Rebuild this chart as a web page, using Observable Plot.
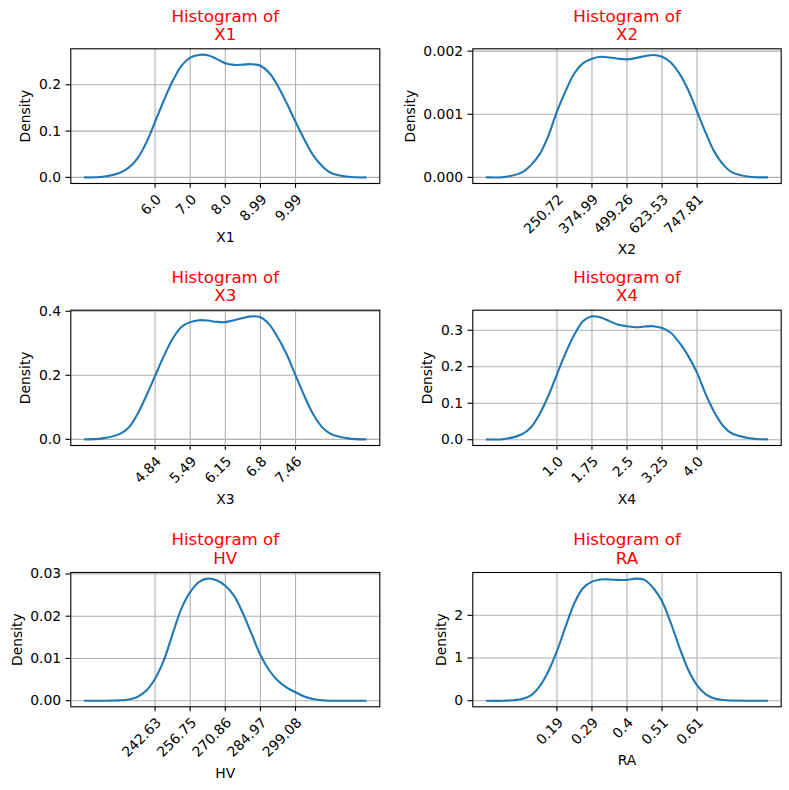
<!DOCTYPE html>
<html>
<head>
<meta charset="utf-8">
<script src="https://cdn.jsdelivr.net/npm/d3@7"></script>
<script src="https://cdn.jsdelivr.net/npm/@observablehq/plot@0.6"></script>
<style>
  html, body { margin: 0; padding: 0; background: #fff; }
  #chart { position: relative; width: 789px; height: 790px; background: #fff; overflow: hidden; }
  #chart > div { position: absolute; }
  #chart svg { display: block; max-width: none; }
</style>
</head>
<body>
<div id="chart"></div>
<script>
// Kernel density curves of six variables, one panel each (row by row).
const variables = ["X1", "X2", "X3", "X4", "HV", "RA"];

// ---- X1 ----
const x1TickValues = [6.0, 6.9975, 7.995, 8.9925, 9.99];
const x1TickLabels = ["6.0", "7.0", "8.0", "8.99", "9.99"];
const x1YTicks = [0, 0.1, 0.2];
const x1YLabels = ["0.0", "0.1", "0.2"];
const x1KdeX = [4.005, 4.504, 5.0025, 5.2519, 5.5013, 5.7506, 6.0, 6.2494, 6.4988, 6.7481, 6.9975, 7.2469, 7.4963, 7.7456, 7.995, 8.2444, 8.4938, 8.7431, 8.9925, 9.2419, 9.4913, 9.7406, 9.99, 10.2394, 10.4888, 10.7381, 10.9875, 11.4863, 11.985];
const x1KdeY = [0, 0.0012, 0.01, 0.021, 0.041, 0.075, 0.12, 0.166, 0.208, 0.241, 0.2587, 0.2645, 0.264, 0.256, 0.2465, 0.243, 0.2435, 0.2445, 0.241, 0.226, 0.197, 0.16, 0.12, 0.082, 0.048, 0.025, 0.01, 0.0012, 0];

// ---- X2 ----
const x2TickValues = [250.72, 374.9925, 499.265, 623.5375, 747.81];
const x2TickLabels = ["250.72", "374.99", "499.26", "623.53", "747.81"];
const x2YTicks = [0, 0.001, 0.002];
const x2YLabels = ["0.000", "0.001", "0.002"];
const x2KdeX = [2.175, 64.311, 126.448, 157.516, 188.584, 219.652, 250.72, 281.788, 312.856, 343.924, 374.993, 406.061, 437.129, 468.197, 499.265, 530.333, 561.401, 592.469, 623.538, 654.606, 685.674, 716.742, 747.81, 778.878, 809.946, 841.014, 872.083, 934.219, 996.355];
const x2KdeY = [0, 0.000006, 0.00008, 0.00019, 0.00036, 0.00065, 0.00104, 0.00137, 0.00165, 0.00181, 0.00188, 0.00191, 0.0019, 0.00188, 0.00187, 0.00189, 0.00192, 0.00194, 0.00191, 0.00182, 0.00164, 0.00138, 0.00104, 0.0007, 0.0004, 0.0002, 0.00008, 0.00001, 0];

// ---- X3 ----
const x3TickValues = [4.84, 5.495, 6.15, 6.805, 7.46];
const x3TickLabels = ["4.84", "5.49", "6.15", "6.8", "7.46"];
const x3YTicks = [0, 0.2, 0.4];
const x3YLabels = ["0.0", "0.2", "0.4"];
const x3KdeX = [3.53, 3.8575, 4.185, 4.34875, 4.5125, 4.67625, 4.84, 5.00375, 5.1675, 5.33125, 5.495, 5.65875, 5.8225, 5.98625, 6.15, 6.31375, 6.4775, 6.64125, 6.805, 6.96875, 7.1325, 7.29625, 7.46, 7.62375, 7.7875, 7.95125, 8.115, 8.4425, 8.77];
const x3KdeY = [0, 0.003, 0.017, 0.037, 0.079, 0.136, 0.198, 0.26, 0.314, 0.351, 0.366, 0.372, 0.371, 0.367, 0.366, 0.372, 0.379, 0.384, 0.381, 0.359, 0.317, 0.265, 0.2, 0.136, 0.079, 0.039, 0.017, 0.003, 0];

// ---- X4 ----
const x4TickValues = [1.0, 1.75, 2.5, 3.25, 4.0];
const x4TickLabels = ["1.0", "1.75", "2.5", "3.25", "4.0"];
const x4YTicks = [0, 0.1, 0.2, 0.3];
const x4YLabels = ["0.0", "0.1", "0.2", "0.3"];
const x4KdeX = [-0.5, -0.125, 0.25, 0.4375, 0.625, 0.8125, 1.0, 1.1875, 1.375, 1.5625, 1.75, 1.9375, 2.125, 2.3125, 2.5, 2.6875, 2.875, 3.0625, 3.25, 3.4375, 3.625, 3.8125, 4.0, 4.1875, 4.375, 4.5625, 4.75, 5.125, 5.5];
const x4KdeY = [0.001, 0.002, 0.015, 0.033, 0.069, 0.119, 0.179, 0.238, 0.288, 0.325, 0.338, 0.335, 0.325, 0.315, 0.311, 0.308, 0.31, 0.311, 0.306, 0.293, 0.265, 0.229, 0.183, 0.124, 0.074, 0.037, 0.017, 0.004, 0.001];

// ---- HV ----
const hvTickValues = [242.63, 256.7425, 270.855, 284.9675, 299.08];
const hvTickLabels = ["242.63", "256.75", "270.86", "284.97", "299.08"];
const hvYTicks = [0, 0.01, 0.02, 0.03];
const hvYLabels = ["0.00", "0.01", "0.02", "0.03"];
const hvKdeX = [214.405, 221.461, 228.518, 232.046, 235.574, 239.102, 242.63, 246.158, 249.686, 253.214, 256.743, 260.271, 263.799, 267.327, 270.855, 274.383, 277.911, 281.439, 284.968, 288.496, 292.024, 295.552, 299.08, 302.608, 306.136, 309.664, 313.193, 320.249, 327.305];
const hvKdeY = [0, 0, 0.0001, 0.0003, 0.0009, 0.0024, 0.0052, 0.0096, 0.0158, 0.0218, 0.0257, 0.0281, 0.0289, 0.0285, 0.0272, 0.0248, 0.0207, 0.0158, 0.0108, 0.0072, 0.0047, 0.0031, 0.002, 0.001, 0.0004, 0.0001, 0, 0, 0];

// ---- RA ----
const raTickValues = [0.19, 0.295, 0.4, 0.505, 0.61];
const raTickLabels = ["0.19", "0.29", "0.4", "0.51", "0.61"];
const raYTicks = [0, 1, 2];
const raYLabels = ["0", "1", "2"];
const raKdeX = [-0.02, 0.0325, 0.085, 0.11125, 0.1375, 0.16375, 0.19, 0.21625, 0.2425, 0.26875, 0.295, 0.32125, 0.3475, 0.37375, 0.4, 0.42625, 0.4525, 0.47875, 0.505, 0.53125, 0.5575, 0.58375, 0.61, 0.63625, 0.6625, 0.68875, 0.715, 0.7675, 0.82];
const raKdeY = [0, 0, 0.04, 0.12, 0.33, 0.68, 1.16, 1.74, 2.29, 2.64, 2.79, 2.84, 2.84, 2.83, 2.83, 2.86, 2.83, 2.64, 2.33, 1.82, 1.24, 0.72, 0.36, 0.15, 0.054, 0.015, 0.003, 0, 0];

const panels = [
  {tickValues: x1TickValues, tickLabels: x1TickLabels, yTicks: x1YTicks, yLabels: x1YLabels, kdeX: x1KdeX, kdeY: x1KdeY},
  {tickValues: x2TickValues, tickLabels: x2TickLabels, yTicks: x2YTicks, yLabels: x2YLabels, kdeX: x2KdeX, kdeY: x2KdeY},
  {tickValues: x3TickValues, tickLabels: x3TickLabels, yTicks: x3YTicks, yLabels: x3YLabels, kdeX: x3KdeX, kdeY: x3KdeY},
  {tickValues: x4TickValues, tickLabels: x4TickLabels, yTicks: x4YTicks, yLabels: x4YLabels, kdeX: x4KdeX, kdeY: x4KdeY},
  {tickValues: hvTickValues, tickLabels: hvTickLabels, yTicks: hvYTicks, yLabels: hvYLabels, kdeX: hvKdeX, kdeY: hvKdeY},
  {tickValues: raTickValues, tickLabels: raTickLabels, yTicks: raYTicks, yLabels: raYLabels, kdeX: raKdeX, kdeY: raKdeY}
].map((p, i) => ({name: variables[i], ...p}));

// Grid layout: cell extents and plotting-frame extents in page pixels.
const colCells = [[0, 394], [394, 789]];
const colFrames = [[70.3, 379.3], [472.3, 780.7]];
const rowCells = [[0, 262], [262, 522], [522, 790]];
const rowFrames = [[48.3, 183], [309.7, 445], [572, 706.3]];

const FONT = '"DejaVu Sans", sans-serif';
const TICK_FONT = 13.9;
const TITLE_FONT = 16.67;
const BLUE = "#1f77b4";
const GRID = "#b0b0b0";
const LINE_W = 1.11;
const TICK_LEN = 4.86, TICK_PAD = 4.86, LABEL_PAD = 5.56;

const measureCtx = document.createElement("canvas").getContext("2d");
measureCtx.font = `${TICK_FONT}px ${FONT}`;
const textWidth = (s) => measureCtx.measureText(s).width;

const root = document.getElementById("chart");

panels.forEach((p, i) => {
  const col = i % 2, row = Math.floor(i / 2);
  const [cx0, cx1] = colCells[col], [fx0, fx1] = colFrames[col];
  const [cy0, cy1] = rowCells[row], [fy0, fy1] = rowFrames[row];
  const width = cx1 - cx0, height = cy1 - cy0;

  // 5% margins around the curve, as in the usual density plot
  const [xLo, xHi] = d3.extent(p.kdeX);
  const [yLo, yHi] = d3.extent(p.kdeY);
  const xPad = 0.05 * (xHi - xLo), yPad = 0.05 * (yHi - yLo);

  const curve = p.kdeX.map((x, j) => ({x, y: p.kdeY[j]}));
  const yLabelW = d3.max(p.yLabels, textWidth);
  const xLabelW = d3.max(p.tickLabels, textWidth);
  const xLabelDy = TICK_LEN + TICK_PAD + (xLabelW + 16) * Math.SQRT1_2 + LABEL_PAD;
  const yLabelDx = TICK_LEN + TICK_PAD + yLabelW + LABEL_PAD + 7.5;

  const chart = Plot.plot({
    width, height,
    marginLeft: fx0 - cx0,
    marginRight: cx1 - fx1,
    marginTop: fy0 - cy0,
    marginBottom: cy1 - fy1,
    style: {fontFamily: FONT, fontSize: `${TICK_FONT}px`, background: "white", color: "black", overflow: "visible"},
    x: {domain: [xLo - xPad, xHi + xPad], axis: null},
    y: {domain: [yLo - yPad, yHi + yPad], axis: null},
    marks: [
      Plot.ruleX(p.tickValues, {stroke: GRID, strokeWidth: LINE_W}),
      Plot.ruleY(p.yTicks, {stroke: GRID, strokeWidth: LINE_W}),
      Plot.line(curve, {x: "x", y: "y", stroke: BLUE, strokeWidth: 2.08, curve: "catmull-rom"}),
      Plot.frame({stroke: "black", strokeWidth: LINE_W}),
      Plot.axisX(p.tickValues, {tickSize: TICK_LEN, fill: "none", stroke: "black", strokeWidth: LINE_W}),
      Plot.axisY(p.yTicks, {
        tickSize: TICK_LEN, tickPadding: TICK_PAD, stroke: "black", fill: "black", strokeWidth: LINE_W,
        tickFormat: (d) => p.yLabels[p.yTicks.indexOf(d)], fontSize: TICK_FONT, label: null
      }),
      Plot.text(p.tickValues, {
        x: (d) => d, text: (d, j) => p.tickLabels[j], frameAnchor: "bottom",
        dy: TICK_LEN + TICK_PAD, rotate: -45, textAnchor: "end", lineAnchor: "top",
        fontSize: TICK_FONT, fill: "black"
      }),
      Plot.text([p.name], {text: (d) => d, frameAnchor: "bottom", dy: xLabelDy, lineAnchor: "top", fontSize: TICK_FONT, fill: "black"}),
      Plot.text(["Density"], {text: (d) => d, frameAnchor: "left", dx: -yLabelDx, rotate: -90, textAnchor: "middle", lineAnchor: "middle", fontSize: TICK_FONT, fill: "black"}),
      Plot.text([`Histogram of\n${p.name}`], {text: (d) => d, frameAnchor: "top", dy: -8.8, lineAnchor: "bottom", lineHeight: 1.1, fill: "red", fontSize: TITLE_FONT})
    ]
  });

  const holder = document.createElement("div");
  holder.style.left = `${cx0}px`;
  holder.style.top = `${cy0}px`;
  holder.style.width = `${width}px`;
  holder.style.height = `${height}px`;
  holder.appendChild(chart);
  root.appendChild(holder);
});
</script>
</body>
</html>
